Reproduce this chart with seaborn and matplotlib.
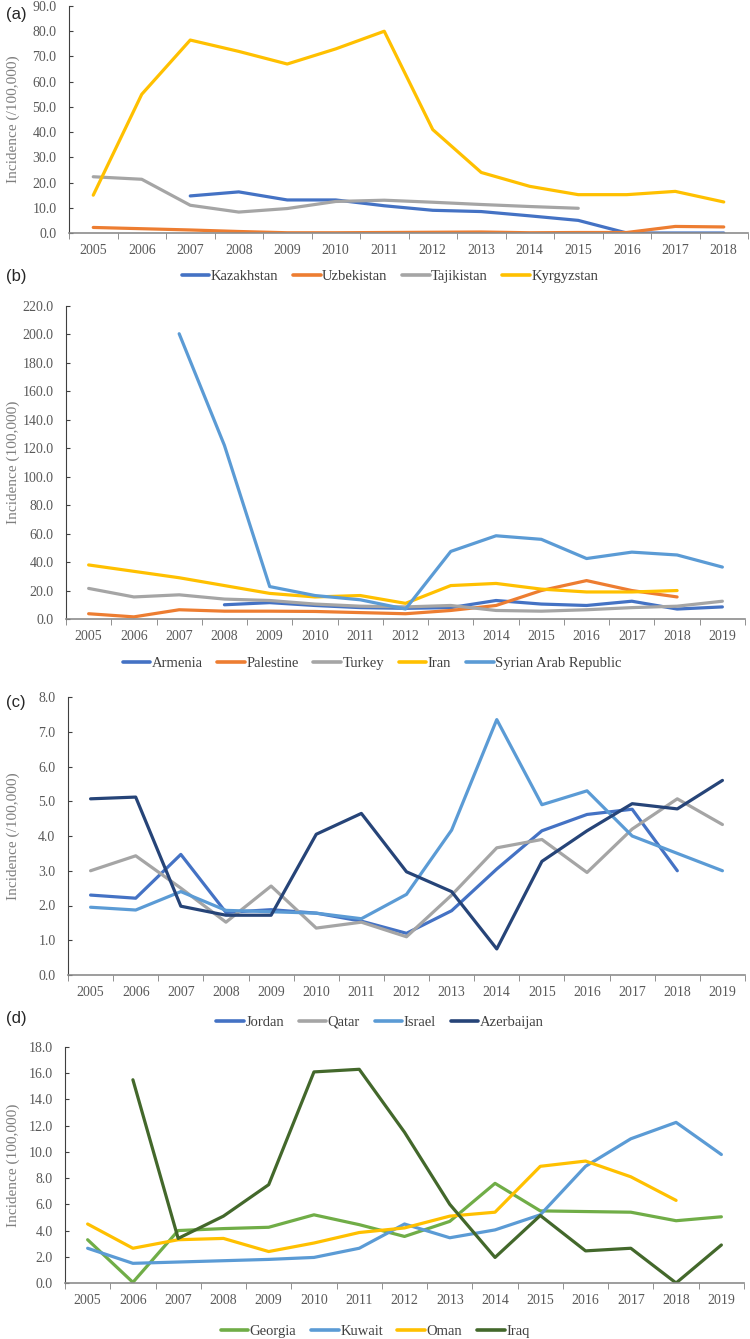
import matplotlib
matplotlib.use("Agg")
import matplotlib.pyplot as plt
import numpy as np
import pandas as pd
import seaborn as sns

sns.set_style("ticks")
plt.rcParams['font.family'] = ['Liberation Serif', 'DejaVu Serif']

nan = np.nan
years_a = list(range(2005, 2019))
years = list(range(2005, 2020))

# panel (a)
countries_a = ['Kazakhstan', 'Uzbekistan', 'Tajikistan', 'Kyrgyzstan']
kazakhstan = [nan, nan, 14.7, 16.3, 13.1, 13.1, 10.8, 9.0, 8.5, 6.8, 5.0, 0.0, 0.0, 0.0]
uzbekistan = [2.2, 1.7, 1.2, 0.6, 0.1, 0.1, 0.2, 0.3, 0.4, 0.1, 0.2, 0.2, 2.6, 2.4]
tajikistan = [22.3, 21.3, 11.0, 8.3, 9.7, 12.5, 13.0, 12.2, 11.3, 10.5, 9.8, nan, nan, nan]
kyrgyzstan = [15.0, 55.0, 76.5, 72.0, 67.0, 73.0, 80.0, 41.0, 24.0, 18.5, 15.2, 15.2, 16.5, 12.3]

# panel (b)
countries_b = ['Armenia', 'Palestine', 'Turkey', 'Iran', 'Syrian Arab Republic']
armenia = [nan, nan, nan, 10.0, 11.5, 9.5, 8.0, 7.5, 8.0, 13.0, 10.5, 9.5, 12.5, 7.0, 8.5]
palestine = [3.7, 1.5, 6.5, 5.5, 5.5, 5.3, 4.5, 3.7, 6.0, 9.5, 20.0, 27.0, 20.0, 15.5, nan]
turkey = [21.5, 15.5, 17.0, 14.0, 13.0, 10.5, 9.0, 8.5, 9.5, 6.0, 5.5, 6.5, 8.0, 9.0, 12.5]
iran = [38.0, 33.5, 29.0, 23.5, 18.0, 15.5, 16.5, 11.0, 23.5, 25.0, 21.0, 19.0, 19.0, 20.0, nan]
syria = [nan, nan, 200.5, 122.0, 22.8, 16.5, 13.5, 7.0, 47.5, 58.5, 56.0, 42.5, 47.0, 45.0, 36.5]

# panel (c)
countries_c = ['Jordan', 'Qatar', 'Israel', 'Azerbaijan']
jordan = [2.30, 2.21, 3.47, 1.80, 1.88, 1.78, 1.55, 1.20, 1.85, 3.05, 4.15, 4.62, 4.77, 3.00, nan]
qatar = [3.00, 3.43, 2.50, 1.52, 2.56, 1.35, 1.52, 1.10, 2.30, 3.66, 3.90, 2.95, 4.20, 5.07, 4.33]
israel = [1.95, 1.87, 2.40, 1.86, 1.82, 1.78, 1.62, 2.32, 4.17, 7.35, 4.90, 5.30, 4.00, 3.50, 3.00]
azerbaijan = [5.07, 5.12, 1.98, 1.72, 1.72, 4.05, 4.65, 2.97, 2.40, 0.75, 3.27, 4.15, 4.93, 4.78, 5.60]

# panel (d)
countries_d = ['Georgia', 'Kuwait', 'Oman', 'Iraq']
georgia = [3.3, 0.05, 4.0, 4.15, 4.25, 5.2, 4.45, 3.55, 4.7, 7.6, 5.5, 5.45, 5.4, 4.75, 5.05]
kuwait = [2.65, 1.5, 1.6, 1.7, 1.8, 1.95, 2.65, 4.5, 3.45, 4.05, 5.2, 8.9, 11.0, 12.25, 9.8]
oman = [4.5, 2.65, 3.3, 3.4, 2.4, 3.05, 3.85, 4.2, 5.1, 5.4, 8.9, 9.3, 8.1, 6.3, nan]
iraq = [nan, 15.5, 3.4, 5.1, 7.5, 16.1, 16.3, 11.5, 6.0, 1.95, 5.15, 2.45, 2.65, 0.0, 2.9]

BLUE, ORANGE, GRAY, GOLD = '#4472C4', '#ED7D31', '#A5A5A5', '#FFC000'
LBLUE, DBLUE, GREEN, DGREEN = '#5B9BD5', '#264478', '#70AD47', '#43682B'

panels = [
    dict(tag='(a)', years=years_a, names=countries_a,
         series=[kazakhstan, uzbekistan, tajikistan, kyrgyzstan],
         colors=[BLUE, ORANGE, GRAY, GOLD], ymax=90, step=10,
         ylabel='Incidence (/100,000)',
         rect=[69, 6, 748, 233], legend=(390, 276), tagy=14),
    dict(tag='(b)', years=years, names=countries_b,
         series=[armenia, palestine, turkey, iran, syria],
         colors=[BLUE, ORANGE, GRAY, GOLD, LBLUE], ymax=220, step=20,
         ylabel='Incidence (100,000)',
         rect=[66, 306, 745, 619], legend=(372, 663), tagy=276),
    dict(tag='(c)', years=years, names=countries_c,
         series=[jordan, qatar, israel, azerbaijan],
         colors=[BLUE, GRAY, LBLUE, DBLUE], ymax=8, step=1,
         ylabel='Incidence (/100,000)',
         rect=[68, 697, 745, 975], legend=(380, 1022), tagy=703),
    dict(tag='(d)', years=years, names=countries_d,
         series=[georgia, kuwait, oman, iraq],
         colors=[GREEN, LBLUE, GOLD, DGREEN], ymax=18, step=2,
         ylabel='Incidence (100,000)',
         rect=[65, 1047, 744, 1283], legend=(375, 1331), tagy=1018),
]

W, H = 750, 1339
fig = plt.figure(figsize=(W / 100, H / 100), dpi=100)
TICKC = '#595959'

for p in panels:
    x0, y0, x1, y1 = p['rect']
    ax = fig.add_axes([x0 / W, 1 - y1 / H, (x1 - x0) / W, (y1 - y0) / H])
    n = len(p['years'])
    rows = []
    for name, vals in zip(p['names'], p['series']):
        for i, v in enumerate(vals):
            rows.append({'idx': i, 'value': v, 'country': name})
    df = pd.DataFrame(rows).dropna()
    sns.lineplot(data=df, x='idx', y='value', hue='country',
                 hue_order=p['names'], palette=p['colors'],
                 linewidth=2.3, ax=ax, legend=True)
    handles, labels = ax.get_legend_handles_labels()
    ax.get_legend().remove()
    for h in handles:
        h.set_linewidth(2.6)

    ax.set_xlim(-0.5, n - 0.5)
    ax.set_ylim(0, p['ymax'])
    ax.set_xticks(range(n))
    ax.set_xticklabels([str(y) for y in p['years']])
    ax.set_xticks(np.arange(-0.5, n, 1.0), minor=True)
    ax.tick_params(axis='x', which='major', length=0, pad=8,
                   labelsize=10, labelcolor=TICKC)
    ax.tick_params(axis='x', which='minor', length=4, direction='out',
                   color='#7f7f7f')
    yt = np.arange(0, p['ymax'] + p['step'] / 2, p['step'])
    ax.set_yticks(yt)
    ax.set_yticklabels([f'{v:.1f}' for v in yt])
    ax.tick_params(axis='y', length=3, direction='in', labelsize=10,
                   labelcolor=TICKC, color='#404040', pad=9)
    sns.despine(ax=ax)
    ax.spines['left'].set_color('#404040')
    ax.spines['bottom'].set_color('#8c8c8c')
    ax.spines['bottom'].set_linewidth(1.2)
    ax.set_xlabel('')
    ax.set_ylabel(p['ylabel'], fontsize=11, color='#7f7f7f')
    ax.yaxis.label.set_va('center')
    ax.yaxis.set_label_coords((13 - x0) / (x1 - x0), 0.5)

    lx, ly = p['legend']
    fig.legend(handles, labels, loc='center', bbox_to_anchor=(lx / W, 1 - ly / H),
               ncol=len(labels), frameon=False, fontsize=10.5,
               handlelength=1.9, handletextpad=0.1, columnspacing=1.0,
               labelcolor='#404040')
    fig.text(6 / W, 1 - p['tagy'] / H, p['tag'], family=['Liberation Sans'],
             fontsize=12, va='center', ha='left')

fig.savefig('out.png', dpi=100)
